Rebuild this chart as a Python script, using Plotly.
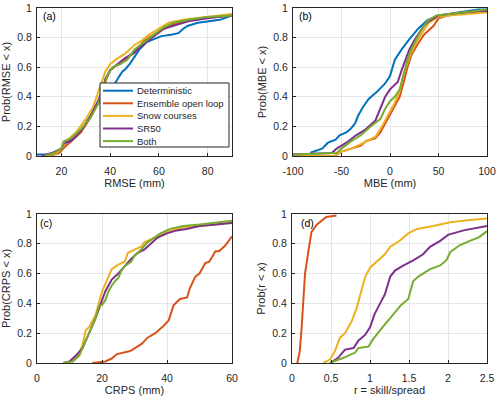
import plotly.graph_objects as go

names = ["Deterministic", "Ensemble open loop", "Snow courses", "SR50", "Both"]
colors = ["#0072BD", "#D95319", "#EDB120", "#7E2F8E", "#77AC30"]

# ---- Panel (a): RMSE ----
a_det_x = [10, 16, 20, 22, 26, 30, 33, 36, 38, 40, 42, 43.8, 45, 46.4, 48, 50, 52, 55, 58, 61, 65, 68, 70, 72, 76, 80, 85, 90]
a_det_y = [0.01, 0.01, 0.05, 0.09, 0.13, 0.22, 0.30, 0.38, 0.43, 0.46, 0.49, 0.54, 0.57, 0.59, 0.62, 0.67, 0.72, 0.77, 0.79, 0.81, 0.82, 0.83, 0.86, 0.88, 0.90, 0.91, 0.92, 0.95]
a_eol_x = [15, 19, 22, 24, 28, 32, 35, 38, 40, 43, 46, 50, 54, 58, 62, 66, 70, 76, 82, 90]
a_eol_y = [0.0, 0.02, 0.07, 0.10, 0.16, 0.26, 0.36, 0.50, 0.58, 0.62, 0.65, 0.70, 0.78, 0.82, 0.86, 0.89, 0.91, 0.93, 0.94, 0.95]
a_snow_x = [14, 18, 20, 22, 26, 30, 33, 36, 38, 40, 43, 46, 50, 53, 56, 60, 64, 70, 80, 90]
a_snow_y = [0.0, 0.02, 0.05, 0.10, 0.16, 0.25, 0.33, 0.48, 0.57, 0.62, 0.66, 0.69, 0.75, 0.78, 0.82, 0.86, 0.90, 0.92, 0.94, 0.96]
a_sr50_x = [12, 16, 20, 21, 24, 28, 32, 35, 37, 38, 40, 43, 46, 50, 54, 58, 62, 66, 72, 80, 90]
a_sr50_y = [0.0, 0.02, 0.05, 0.09, 0.10, 0.17, 0.27, 0.37, 0.45, 0.52, 0.58, 0.62, 0.66, 0.70, 0.76, 0.81, 0.86, 0.88, 0.91, 0.93, 0.95]
a_both_x = [13, 17, 20, 21, 24, 28, 32, 35, 37, 39, 41, 44, 47, 50, 54, 58, 62, 66, 72, 80, 90]
a_both_y = [0.0, 0.02, 0.05, 0.10, 0.12, 0.18, 0.26, 0.35, 0.45, 0.55, 0.60, 0.62, 0.65, 0.72, 0.77, 0.82, 0.87, 0.90, 0.92, 0.94, 0.95]

# ---- Panel (b): MBE ----
b_det_x = [-100, -82, -81, -70, -64, -56, -52, -45, -41, -36, -33, -28, -22, -14, -5, 0, 5, 12, 20, 29, 39, 50, 70, 91, 100]
b_det_y = [0.01, 0.01, 0.025, 0.05, 0.09, 0.11, 0.14, 0.16, 0.18, 0.22, 0.27, 0.33, 0.385, 0.43, 0.49, 0.54, 0.65, 0.72, 0.79, 0.86, 0.92, 0.945, 0.97, 0.99, 0.99]
b_eol_x = [-100, -57, -50, -40, -30, -25, -15, -10, -5, 0, 5, 10, 15, 18, 22, 28, 35, 45, 50, 60, 80, 100]
b_eol_y = [0.0, 0.0, 0.03, 0.05, 0.07, 0.10, 0.12, 0.16, 0.22, 0.27, 0.33, 0.40, 0.52, 0.60, 0.68, 0.75, 0.82, 0.88, 0.93, 0.95, 0.97, 0.975]
b_snow_x = [-100, -58, -50, -40, -30, -20, -15, -10, -5, 0, 5, 10, 14, 18, 22, 30, 40, 50, 60, 80, 100]
b_snow_y = [0.0, 0.0, 0.03, 0.05, 0.08, 0.11, 0.13, 0.18, 0.24, 0.30, 0.36, 0.44, 0.55, 0.63, 0.70, 0.80, 0.90, 0.94, 0.95, 0.96, 0.97]
b_sr50_x = [-100, -60, -55, -45, -35, -25, -15, -10, -5, 0, 5, 8, 12, 16, 20, 25, 30, 35, 40, 45, 50, 60, 75, 90, 100]
b_sr50_y = [0.01, 0.02, 0.05, 0.09, 0.14, 0.18, 0.24, 0.32, 0.40, 0.45, 0.48, 0.50, 0.58, 0.65, 0.72, 0.78, 0.83, 0.88, 0.91, 0.93, 0.95, 0.96, 0.97, 0.98, 0.98]
b_both_x = [-100, -55, -50, -40, -30, -20, -10, -5, 0, 5, 10, 14, 18, 22, 28, 35, 40, 48, 60, 75, 90, 100]
b_both_y = [0.01, 0.02, 0.05, 0.10, 0.14, 0.20, 0.25, 0.32, 0.37, 0.40, 0.45, 0.55, 0.65, 0.72, 0.80, 0.88, 0.92, 0.95, 0.96, 0.97, 0.985, 0.99]

# ---- Panel (c): CRPS ----
c_eol_x = [17, 21, 23, 24.6, 28.7, 30, 32.3, 34, 36.4, 39, 40.5, 42, 44, 46.2, 47, 48.7, 50, 51.8, 53, 54.9, 56, 58, 59.5, 60]
c_eol_y = [0.0, 0.01, 0.03, 0.06, 0.08, 0.10, 0.13, 0.17, 0.20, 0.25, 0.285, 0.387, 0.43, 0.44, 0.50, 0.58, 0.60, 0.67, 0.68, 0.75, 0.75, 0.79, 0.84, 0.85]
c_snow_x = [9, 11, 13, 14, 15, 16, 17, 18, 19, 20, 21, 22, 23, 25, 27, 28, 30, 32, 33, 35, 38, 40, 45, 50, 55, 60]
c_snow_y = [0.0, 0.02, 0.07, 0.12, 0.22, 0.24, 0.28, 0.32, 0.40, 0.48, 0.53, 0.58, 0.63, 0.66, 0.68, 0.74, 0.76, 0.78, 0.81, 0.83, 0.86, 0.88, 0.91, 0.92, 0.93, 0.95]
c_sr50_x = [8.2, 10, 12, 14, 15, 16, 17, 18, 19, 20, 21, 22, 23, 25, 27, 29, 31, 33, 35, 37, 40, 43, 46, 50, 55, 60]
c_sr50_y = [0.0, 0.01, 0.05, 0.10, 0.15, 0.20, 0.24, 0.30, 0.36, 0.42, 0.48, 0.52, 0.56, 0.60, 0.65, 0.70, 0.74, 0.76, 0.80, 0.84, 0.87, 0.89, 0.90, 0.92, 0.93, 0.94]
c_both_x = [8, 11, 13, 14, 16, 17, 18, 19, 20, 21, 22, 23, 24, 25, 26, 27, 29, 30, 32, 34, 36, 38, 41, 45, 50, 55, 60]
c_both_y = [0.0, 0.01, 0.05, 0.10, 0.20, 0.25, 0.30, 0.38, 0.39, 0.42, 0.48, 0.52, 0.55, 0.57, 0.62, 0.65, 0.68, 0.72, 0.76, 0.81, 0.84, 0.87, 0.90, 0.92, 0.93, 0.94, 0.955]

# ---- Panel (d): r = skill/spread ----
d_eol_x = [0.068, 0.10, 0.124, 0.145, 0.167, 0.21, 0.25, 0.32, 0.40, 0.44, 0.57]
d_eol_y = [0.0, 0.08, 0.24, 0.42, 0.60, 0.75, 0.88, 0.93, 0.96, 0.98, 0.99]
d_snow_x = [0.40, 0.49, 0.55, 0.615, 0.68, 0.765, 0.83, 0.89, 0.936, 1.0, 1.085, 1.19, 1.26, 1.38, 1.49, 1.6, 1.81, 2.03, 2.28, 2.5]
d_snow_y = [0.0, 0.025, 0.08, 0.17, 0.20, 0.28, 0.37, 0.49, 0.575, 0.64, 0.68, 0.73, 0.78, 0.82, 0.87, 0.90, 0.92, 0.945, 0.96, 0.97]
d_sr50_x = [0.49, 0.59, 0.68, 0.79, 0.85, 0.94, 1.0, 1.06, 1.13, 1.19, 1.26, 1.32, 1.43, 1.56, 1.68, 1.77, 1.9, 2.0, 2.2, 2.5]
d_sr50_y = [0.0, 0.035, 0.09, 0.10, 0.15, 0.19, 0.24, 0.33, 0.40, 0.46, 0.58, 0.62, 0.655, 0.69, 0.73, 0.78, 0.82, 0.86, 0.89, 0.92]
d_both_x = [0.48, 0.66, 0.81, 0.85, 0.98, 1.04, 1.13, 1.21, 1.3, 1.4, 1.49, 1.555, 1.62, 1.77, 1.9, 1.98, 2.03, 2.15, 2.28, 2.4, 2.5]
d_both_y = [0.0, 0.035, 0.07, 0.10, 0.11, 0.16, 0.22, 0.27, 0.33, 0.39, 0.43, 0.55, 0.58, 0.63, 0.655, 0.69, 0.745, 0.79, 0.82, 0.845, 0.885]

y_ticks = [0, 0.2, 0.4, 0.6, 0.8, 1]
y_ticktext = ["0", "0.2", "0.4", "0.6", "0.8", "1"]
a_ticks = [20, 40, 60, 80]
b_ticks = [-100, -50, 0, 50, 100]
b_ticktext = ["-100", "-50", "0", "50", "100"]
c_ticks = [0, 20, 40, 60]
d_ticks = [0, 0.5, 1, 1.5, 2, 2.5]
d_ticktext = ["0", "0.5", "1", "1.5", "2", "2.5"]

panels = [
    ("x", "y", [(0, a_det_x, a_det_y), (1, a_eol_x, a_eol_y), (2, a_snow_x, a_snow_y), (3, a_sr50_x, a_sr50_y), (4, a_both_x, a_both_y)]),
    ("x2", "y2", [(0, b_det_x, b_det_y), (1, b_eol_x, b_eol_y), (2, b_snow_x, b_snow_y), (3, b_sr50_x, b_sr50_y), (4, b_both_x, b_both_y)]),
    ("x3", "y3", [(1, c_eol_x, c_eol_y), (2, c_snow_x, c_snow_y), (3, c_sr50_x, c_sr50_y), (4, c_both_x, c_both_y)]),
    ("x4", "y4", [(1, d_eol_x, d_eol_y), (2, d_snow_x, d_snow_y), (3, d_sr50_x, d_sr50_y), (4, d_both_x, d_both_y)]),
]

fig = go.Figure()
for xa, ya, series in panels:
    for idx, xs, ys in series:
        fig.add_trace(go.Scatter(x=xs, y=ys, mode="lines", xaxis=xa, yaxis=ya,
                                 line=dict(color=colors[idx], width=2),
                                 name=names[idx], showlegend=False))

W, H = 500, 399
def px(x):
    return x / W
def py(y):
    return 1 - y / H

FONT = "Liberation Sans, Arial, sans-serif"
TXT = "#262626"
GRID = "#e6e6e6"

def axis(domain, rng, tickvals, ticktext, title, anchor, is_x):
    d = dict(domain=domain, range=rng, tickvals=tickvals, ticktext=ticktext,
             automargin=False,
             showgrid=True, gridcolor=GRID, gridwidth=1, zeroline=False,
             showline=True, linecolor=TXT, linewidth=1, mirror=True,
             ticks="inside", ticklen=3, tickcolor=TXT,
             tickfont=dict(family=FONT, size=10.5, color=TXT),
             title=dict(text=title, font=dict(family=FONT, size=11, color=TXT),
                        standoff=3 if is_x else 4),
             anchor=anchor)
    if is_x:
        d["ticklabelstandoff"] = 5
    else:
        d["ticklabelstandoff"] = 2
    return d

top_dom = [py(156), py(8)]
bot_dom = [py(363), py(214)]

fig.update_layout(
    width=W, height=H, margin=dict(l=0, r=0, t=0, b=0),
    paper_bgcolor="white", plot_bgcolor="white", showlegend=False,
    xaxis=axis([px(37), px(232)], [10, 90], a_ticks, [str(v) for v in a_ticks], "RMSE (mm)", "y", True),
    yaxis=axis(top_dom, [0, 1], y_ticks, y_ticktext, "Prob(RMSE < x)", "x", False),
    xaxis2=axis([px(293), px(487)], [-100, 100], b_ticks, b_ticktext, "MBE (mm)", "y2", True),
    yaxis2=axis(top_dom, [0, 1], y_ticks, y_ticktext, "Prob(MBE < x)", "x2", False),
    xaxis3=axis([px(37), px(232)], [0, 60], c_ticks, [str(v) for v in c_ticks], "CRPS (mm)", "y3", True),
    yaxis3=axis(bot_dom, [0, 1], y_ticks, y_ticktext, "Prob(CRPS < x)", "x3", False),
    xaxis4=axis([px(292), px(487)], [0, 2.5], d_ticks, d_ticktext, "r = skill/spread", "y4", True),
    yaxis4=axis(bot_dom, [0, 1], y_ticks, y_ticktext, "Prob(r < x)", "x4", False),
)

# panel labels
for lab, xx, yy in [("(a)", 41, 16), ("(b)", 297, 16), ("(c)", 38, 223), ("(d)", 299, 223)]:
    fig.add_annotation(x=px(xx), y=py(yy), xref="paper", yref="paper", text=lab,
                       showarrow=False, xanchor="left", yanchor="middle",
                       font=dict(family=FONT, size=10.5, color="black"))

# legend (panel a)
fig.add_shape(type="rect", xref="paper", yref="paper", x0=px(100), x1=px(229), y0=py(147), y1=py(83),
              line=dict(color=TXT, width=1), fillcolor="white", layer="above")
for i, nm in enumerate(names):
    yc = 90.7 + i * 12.6
    fig.add_shape(type="line", xref="paper", yref="paper", x0=px(103), x1=px(133), y0=py(yc), y1=py(yc),
                  line=dict(color=colors[i], width=2), layer="above")
    fig.add_annotation(x=px(135), y=py(yc), xref="paper", yref="paper", text=nm, showarrow=False,
                       xanchor="left", yanchor="middle", font=dict(family=FONT, size=9.5, color=TXT))

fig.write_html("out.html", config={"displayModeBar": False},
               post_script="document.body.style.margin='0';document.body.style.padding='0';document.body.style.overflow='hidden';")
